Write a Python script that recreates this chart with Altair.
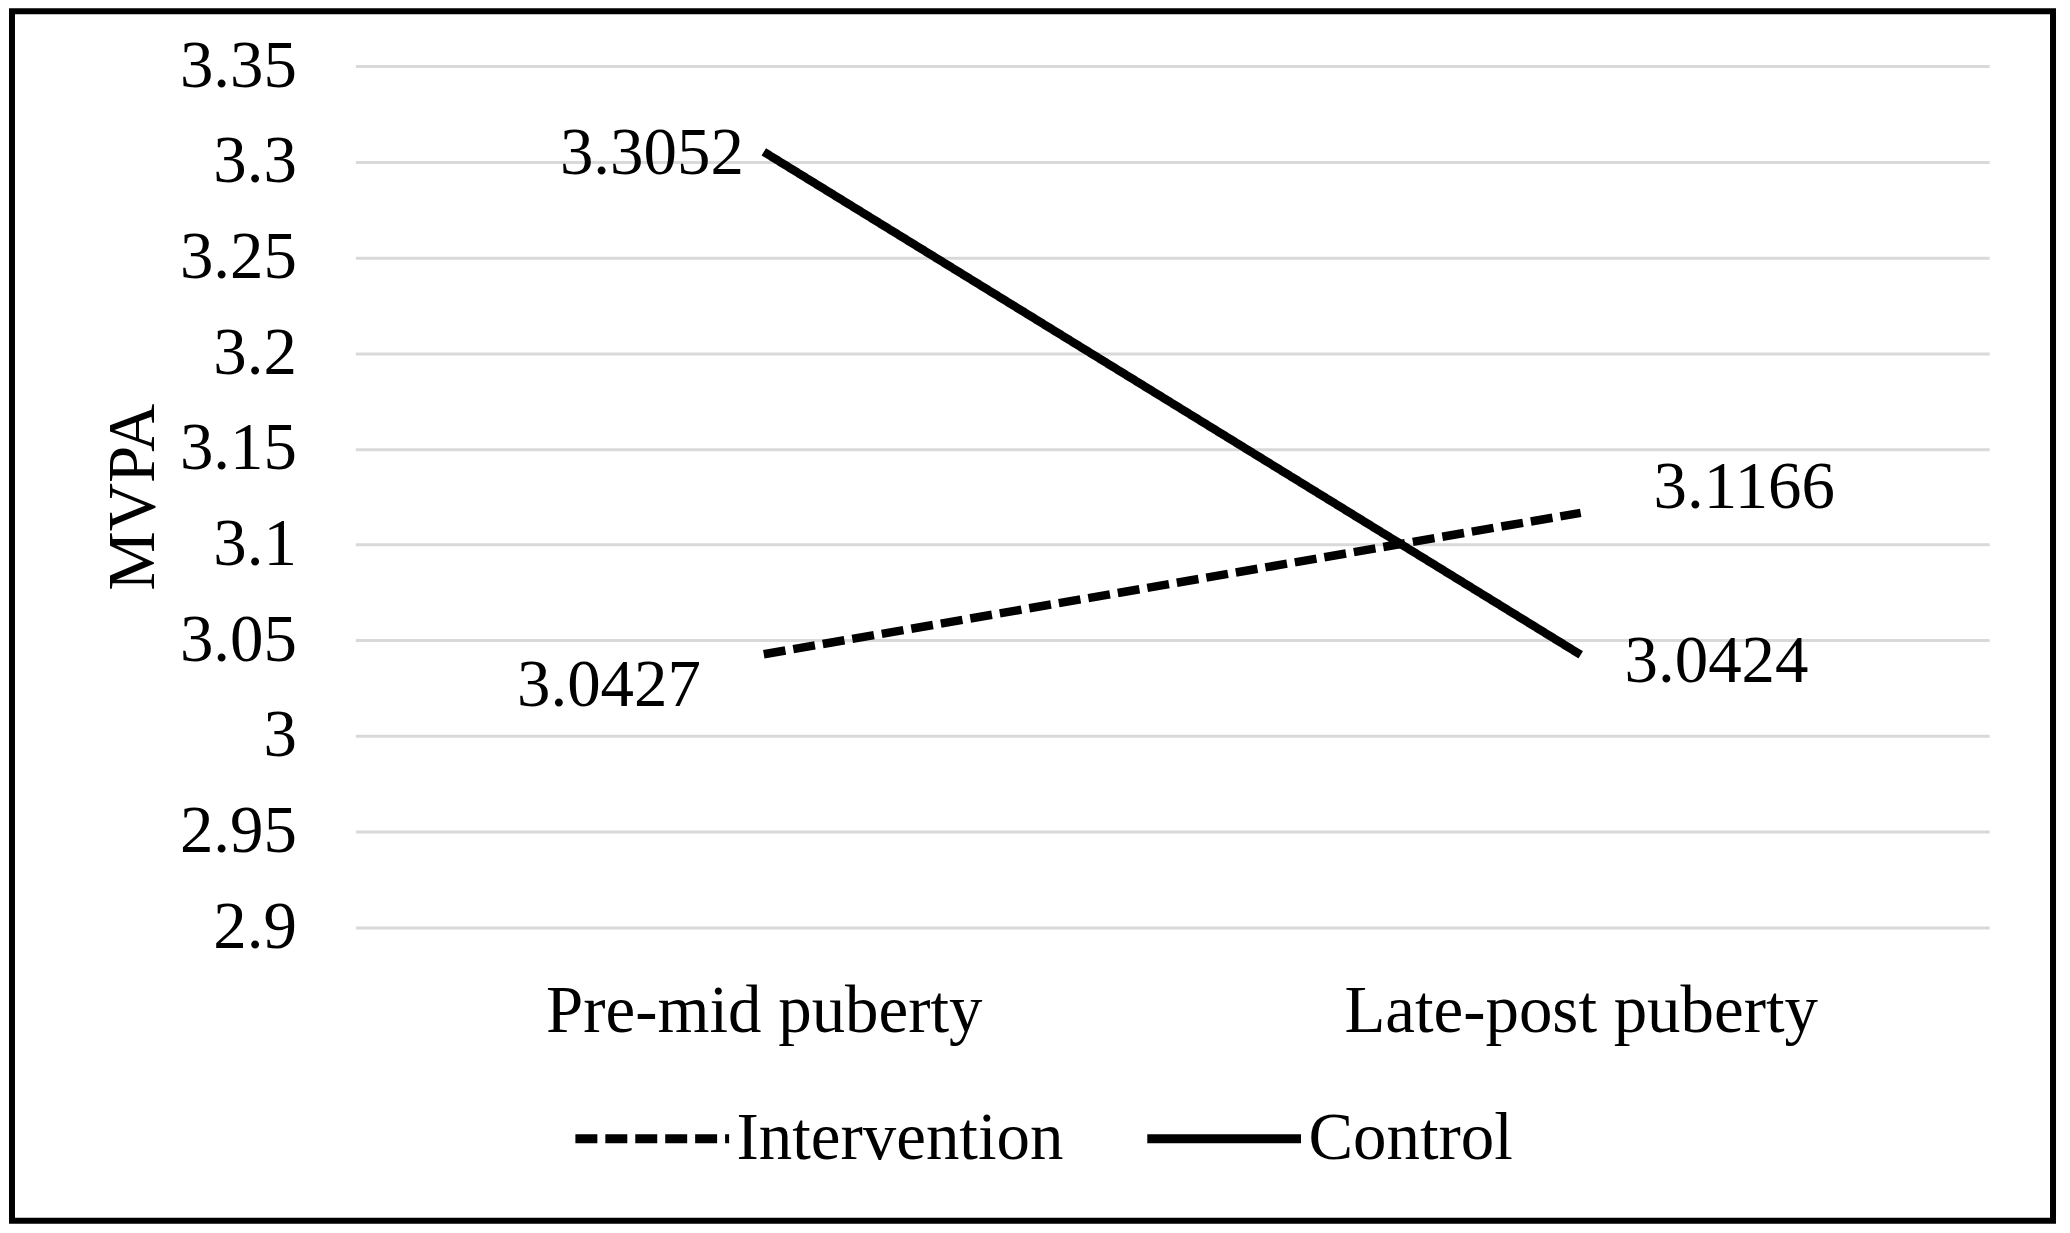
import altair as alt
import pandas as pd

# ---- data ----
stages = ["Pre-mid puberty", "Late-post puberty"]
groups = ["Intervention", "Control"]
intervention = [3.0427, 3.1166]
control = [3.3052, 3.0424]
y_ticks = [2.9, 2.95, 3.0, 3.05, 3.1, 3.15, 3.2, 3.25, 3.3, 3.35]

rows = []
for s, v in zip(stages, intervention):
    rows.append({"stage": s, "group": "Intervention", "value": v})
for s, v in zip(stages, control):
    rows.append({"stage": s, "group": "Control", "value": v})
df = pd.DataFrame(rows)

FONT = "Liberation Serif"
FS = 67
W, H = 1637, 863

x_enc = alt.X(
    "stage:N",
    sort=stages,
    scale=alt.Scale(type="point", domain=stages, padding=0.5),
    axis=alt.Axis(
        title=None, labelAngle=0, grid=False, domain=False, ticks=False, tickSize=0,
        labelFont=FONT, labelFontSize=FS, labelColor="black", labelPadding=104,
        labelBaseline="alphabetic", labelLimit=2000,
    ),
)
y_enc = alt.Y(
    "value:Q",
    scale=alt.Scale(domain=[2.9, 3.35], nice=False, zero=False),
    axis=alt.Axis(
        values=y_ticks, format="~g", grid=True, gridColor="#d9d9d9", gridWidth=3,
        domain=False, ticks=False, tickSize=0,
        labelFont=FONT, labelFontSize=FS, labelColor="black", labelPadding=59, labelLimit=2000,
        title="MVPA", titleFont=FONT, titleFontSize=FS, titleFontWeight="normal",
        titleColor="black", titleX=-202, titleY=H / 2, titleBaseline="alphabetic",
    ),
)

lines = alt.Chart(df).mark_line(strokeWidth=8.5, strokeCap="butt").encode(
    x=x_enc,
    y=y_enc,
    color=alt.Color(
        "group:N",
        scale=alt.Scale(domain=groups, range=["black", "black"]),
        legend=alt.Legend(
            title=None, orient="none", legendX=216, legendY=993, direction="horizontal",
            symbolType="stroke", symbolSize=23716, symbolStrokeWidth=9,
            labelFont=FONT, labelFontSize=FS, labelColor="black", labelOffset=3,
            columnPadding=65, padding=0, labelLimit=2000,
        ),
    ),
    strokeDash=alt.StrokeDash(
        "group:N",
        scale=alt.Scale(domain=groups, range=[[22, 8], [1, 0]]),
        legend=alt.Legend(title=None),
    ),
    detail="group:N",
)

# label placement styles (group, stage, align, dx, dy)
label_styles = [
    ("Control", stages[0], "right", -20, 2),
    ("Intervention", stages[0], "right", -63, 32),
    ("Intervention", stages[1], "left", 73, -25),
    ("Control", stages[1], "left", 44, 7),
]
label_layers = []
for g, s, al, dx, dy in label_styles:
    label_layers.append(
        alt.Chart(df)
        .transform_filter((alt.datum.group == g) & (alt.datum.stage == s))
        .mark_text(font=FONT, fontSize=FS, color="black", align=al, baseline="middle", dx=dx, dy=dy)
        .encode(
            x=alt.X("stage:N", sort=stages, scale=alt.Scale(type="point", domain=stages, padding=0.5)),
            y=alt.Y("value:Q", scale=alt.Scale(domain=[2.9, 3.35], nice=False, zero=False)),
            text=alt.Text("value:Q", format=".4f"),
        )
    )

border = alt.Chart(pd.DataFrame({"a": [0]})).mark_rect(
    fill="transparent", stroke="black", strokeWidth=6
).encode(
    x=alt.value(-344), x2=alt.value(1701), y=alt.value(-55), y2=alt.value(1157)
)

chart = alt.layer(border, lines, *label_layers).properties(
    width=W,
    height=H,
    autosize=alt.AutoSizeParams(type="none"),
    padding={"left": 348, "top": 57, "right": 73, "bottom": 302},
    background="white",
).configure_view(strokeWidth=0)

chart.save("out.html", embed_options={"renderer": "svg", "actions": False})
